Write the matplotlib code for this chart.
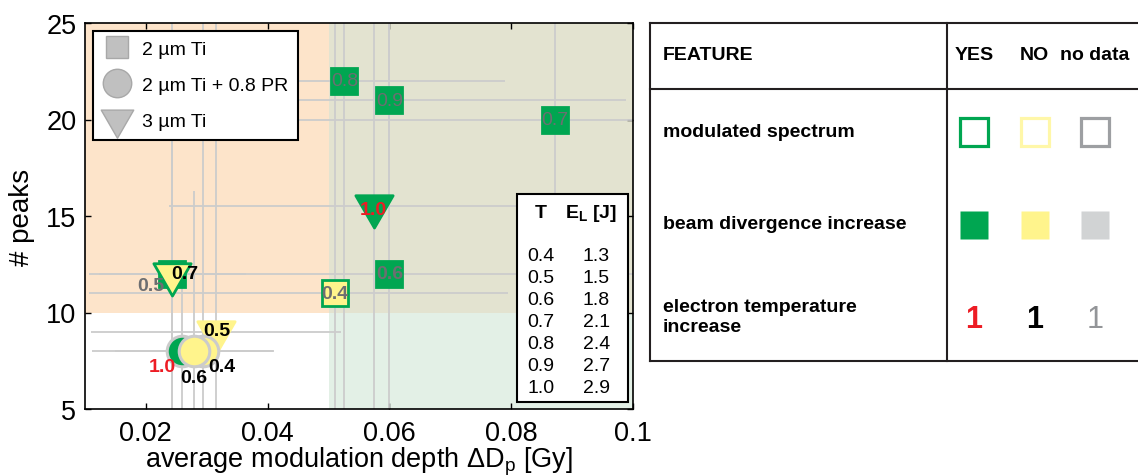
import matplotlib
matplotlib.use('Agg')
import matplotlib.pyplot as plt
from matplotlib.path import Path
from matplotlib.patches import Rectangle
from matplotlib.lines import Line2D

plt.rcParams['font.family'] = ['Liberation Sans', 'DejaVu Sans']
plt.rcParams['mathtext.fontset'] = 'custom'
plt.rcParams['mathtext.rm'] = 'Liberation Sans'
plt.rcParams['mathtext.it'] = 'Liberation Sans:italic'
plt.rcParams['mathtext.bf'] = 'Liberation Sans:bold'

# ---------------- data ----------------
# 2 um Ti (squares)
T_sq   = ['0.8', '0.9', '0.7', '0.6', '0.4', '0.5']
x_sq   = [0.0526, 0.0600, 0.0871, 0.0600, 0.0511, 0.0244]
y_sq   = [22, 21, 20, 12, 11, 12]
xlo_sq = [0.0264, 0.0388, 0.0550, 0.0493, 0.0404, 0.0100]
xhi_sq = [0.0264, 0.0388, 0.0550, 0.0493, 0.0283, 0.0100]
ye_sq  = [18, 6, 10, 14, 15, 7]
mod_sq = ['yes', 'yes', 'yes', 'yes', 'yes', 'yes']
div_sq = ['yes', 'yes', 'yes', 'yes', 'no', 'yes']
tmp_sq = ['nd', 'nd', 'nd', 'nd', 'nd', 'nd']

# 3 um Ti (triangles)
T_tr   = ['0.5', '0.7', '1.0']
x_tr   = [0.0316, 0.0244, 0.0574]
y_tr   = [9, 12, 15.5]
xlo_tr = [0.0205, 0.0120, 0.0336]
xhi_tr = [0.0205, 0.0120, 0.0336]
ye_tr  = [17, 14, 11]
mod_tr = ['no', 'yes', 'yes']
div_tr = ['no', 'no', 'yes']
tmp_tr = ['no', 'no', 'yes']

# 2 um Ti + 0.8 PR (circles)
T_ci   = ['1.0', '0.4', '0.6']
x_ci   = [0.0259, 0.0294, 0.0279]
y_ci   = [8, 8, 8]
xlo_ci = [0.0147, 0.0117, 0.0130]
xhi_ci = [0.0147, 0.0117, 0.0130]
ye_ci  = [4, 18, 8.3]
mod_ci = ['nd', 'nd', 'nd']
div_ci = ['yes', 'no', 'no']
tmp_ci = ['yes', 'no', 'no']

legend_labels = ['2 \u00b5m Ti', '2 \u00b5m Ti + 0.8 PR', '3 \u00b5m Ti']
x_threshold = 0.05
y_threshold = 10
xticks = [0.02, 0.04, 0.06, 0.08, 0.1]
xticklabels = ['0.02', '0.04', '0.06', '0.08', '0.1']
yticks = [5, 10, 15, 20, 25]

T_table  = ['0.4', '0.5', '0.6', '0.7', '0.8', '0.9', '1.0']
EL_table = ['1.3', '1.5', '1.8', '2.1', '2.4', '2.7', '2.9']

features = ['modulated spectrum', 'beam divergence increase',
            'electron temperature\nincrease']
columns = ['YES', 'NO', 'no data']

# ---------------- styles ----------------
GREEN = '#00a651'
FACE = {'yes': GREEN, 'no': '#fff48c', 'nd': '#d1d3d4'}
EDGE = {'yes': GREEN, 'no': '#fff48c', 'nd': '#cbcbcb'}
LABC = {'yes': '#ed1c24', 'no': 'black', 'nd': '#6d6e71'}
KEY_EDGE = {'yes': GREEN, 'no': '#fff7a8', 'nd': '#9d9fa2'}
ERRC = '#cccccc'

TRI = Path([(-1, 0.577), (1, 0.577), (0, -1.155), (-1, 0.577)],
           [Path.MOVETO, Path.LINETO, Path.LINETO, Path.CLOSEPOLY])

W, H = 1138, 477
AX_L, AX_R, AX_T, AX_B = 84.7, 633.3, 24.0, 410.0
AXW, AXH = AX_R - AX_L, AX_B - AX_T
fig = plt.figure(figsize=(W / 100, H / 100), dpi=100)
ax = fig.add_axes([AX_L / W, 1 - AX_B / H, AXW / W, AXH / H])
ax.set_xlim(0.01, 0.1)
ax.set_ylim(5, 25)


def pax(px, py):
    return ((px - AX_L) / AXW, (AX_B - py) / AXH)


# background regions
ax.add_patch(Rectangle((0.01, y_threshold), x_threshold - 0.01, 25 - y_threshold,
                       facecolor='#fde4ca', edgecolor='none', zorder=0))
ax.add_patch(Rectangle((x_threshold, y_threshold), 0.1 - x_threshold, 25 - y_threshold,
                       facecolor='#e3e3d0', edgecolor='none', zorder=0))
ax.add_patch(Rectangle((x_threshold, 5), 0.1 - x_threshold, y_threshold - 5,
                       facecolor='#e3f0e6', edgecolor='none', zorder=0))

# error bars
for xs, ys, lo, hi, ye in [(x_sq, y_sq, xlo_sq, xhi_sq, ye_sq),
                           (x_tr, y_tr, xlo_tr, xhi_tr, ye_tr),
                           (x_ci, y_ci, xlo_ci, xhi_ci, ye_ci)]:
    ax.errorbar(xs, ys, xerr=[lo, hi], yerr=ye, fmt='none', ecolor=ERRC,
                elinewidth=1.3, capsize=0, zorder=2)

# label offsets (pixels: dx right, dy down) and weights
lab_sq = {'0.8': (0, 0, 'normal'), '0.9': (0, 0, 'normal'), '0.7': (0, 0, 'normal'),
          '0.6': (0, 0, 'bold'), '0.4': (0, 0, 'bold'), '0.5': (-22, 12, 'bold')}
lab_tr = {'0.5': (0, -1, 'bold'), '0.7': (12, 0, 'bold'), '1.0': (0, 3, 'bold')}
lab_ci = {'1.0': (-19, 15, 'bold'), '0.4': (19, 15, 'bold'), '0.6': (0, 26, 'bold')}

z = 3
series = [('s', 19, 2.0, T_sq, x_sq, y_sq, mod_sq, div_sq, tmp_sq, lab_sq),
          (TRI, 31, 2.0, T_tr, x_tr, y_tr, mod_tr, div_tr, tmp_tr, lab_tr),
          ('o', 22, 2.2, T_ci, x_ci, y_ci, mod_ci, div_ci, tmp_ci, lab_ci)]
for mk, ms, mew, Ts, xs, ys, mods, divs, tmps, labs in series:
    for T, x, y, m, d, t in zip(Ts, xs, ys, mods, divs, tmps):
        ax.plot([x], [y], ls='none', marker=mk, ms=ms, mfc=FACE[d], mec=EDGE[m],
                mew=mew, zorder=z)
        z += 0.01
for mk, ms, mew, Ts, xs, ys, mods, divs, tmps, labs in series:
    for T, x, y, t in zip(Ts, xs, ys, tmps):
        dx, dy, wgt = labs[T]
        ax.annotate(T, (x, y), xytext=(dx * 0.72, -dy * 0.72), textcoords='offset points',
                    ha='center', va='center', fontsize=14, fontweight=wgt,
                    color=LABC[t], zorder=5)

# axes styling
ax.set_xticks(xticks)
ax.set_xticklabels(xticklabels)
ax.set_yticks(yticks)
ax.tick_params(direction='in', length=4, width=1, labelsize=19.5, top=True, right=True)
ax.tick_params(axis='y', pad=6)
ax.tick_params(axis='x', pad=8)
for s in ax.spines.values():
    s.set_linewidth(1.2)
    s.set_zorder(8)
ax.set_xlabel('average modulation depth \u0394D$_\\mathregular{p}$ [Gy]', fontsize=19.5,
              labelpad=-1)
ax.set_ylabel('# peaks', fontsize=20, labelpad=8)

# legend
GREYF, GREYE = '#c0c0c0', '#a8a8a8'
handles = [Line2D([], [], ls='none', marker='s', ms=15.5, mfc=GREYF, mec=GREYE, mew=1),
           Line2D([], [], ls='none', marker='o', ms=20.5, mfc=GREYF, mec=GREYE, mew=1),
           Line2D([], [], ls='none', marker=TRI, ms=27, mfc=GREYF, mec=GREYE, mew=1)]
lx, ly = pax(93, 31.7)
leg = ax.legend(handles, legend_labels, loc='upper left', bbox_to_anchor=(lx, ly),
                borderaxespad=0, fontsize=14, frameon=True, fancybox=False,
                edgecolor='black', framealpha=1, borderpad=0.5, handlelength=1.5,
                handletextpad=0.5, labelspacing=0.95)
leg.get_frame().set_linewidth(1.5)
leg.set_zorder(9)

# inset table T / E_L
x0, y0 = pax(517.3, 403.3)
x1, y1 = pax(628.3, 195)
ax.add_patch(Rectangle((x0, y0), x1 - x0, y1 - y0, transform=ax.transAxes,
                       facecolor='white', edgecolor='black', lw=1.5, zorder=9,
                       clip_on=False))
ax.text(*pax(541, 213.5), 'T', transform=ax.transAxes, ha='center', va='center',
        fontsize=14, fontweight='bold', zorder=10)
ax.text(*pax(591, 213.5), r'$\mathbf{E_L}$ [J]', transform=ax.transAxes, ha='center',
        va='center', fontsize=14, fontweight='bold', zorder=10)
for i, (tv, ev) in enumerate(zip(T_table, EL_table)):
    yy = 256.7 + 22.05 * i
    ax.text(*pax(541, yy), tv, transform=ax.transAxes, ha='center', va='center',
            fontsize=14, zorder=10)
    ax.text(*pax(596.5, yy), ev, transform=ax.transAxes, ha='center', va='center',
            fontsize=14, zorder=10)

# right-hand key table (pixel coordinates overlay)
tab = fig.add_axes([0, 0, 1, 1])
tab.set_xlim(0, W)
tab.set_ylim(H, 0)
tab.axis('off')
LW = 1.5
LC = '#231f20'
tab.plot([650, W], [24, 24], color=LC, lw=LW)
tab.plot([650, W], [362.3, 362.3], color=LC, lw=LW)
tab.plot([650, W], [90.3, 90.3], color=LC, lw=LW)
tab.plot([650, 650], [24, 362.3], color=LC, lw=LW)
tab.plot([946.7, 946.7], [24, 362.3], color=LC, lw=LW)
tab.text(662.7, 56, 'FEATURE', fontsize=14, fontweight='bold', va='center', ha='left')
for cx, c in zip([955, 1020, 1060], columns):
    tab.text(cx, 56, c, fontsize=14, fontweight='bold', va='center', ha='left')
for fy, f in zip([132.7, 225, 317.5], features):
    tab.text(662.7, fy, f, fontsize=14, fontweight='bold', va='center', ha='left',
             linespacing=1.2)
keys = ['yes', 'no', 'nd']
kx = [974, 1034.7, 1095]
for x, k in zip(kx, keys):
    tab.plot([x], [133.3], ls='none', marker='s', ms=19.5, mfc='white',
             mec=KEY_EDGE[k], mew=2.3)
    tab.plot([x], [226], ls='none', marker='s', ms=20, mfc=FACE[k], mec='none')
    tab.text(x, 320, '1', fontsize=22, fontweight='bold' if k != 'nd' else 'normal',
             color={'yes': '#ed1c24', 'no': 'black', 'nd': '#939598'}[k],
             ha='center', va='center')

fig.savefig('out.png', dpi=100)
